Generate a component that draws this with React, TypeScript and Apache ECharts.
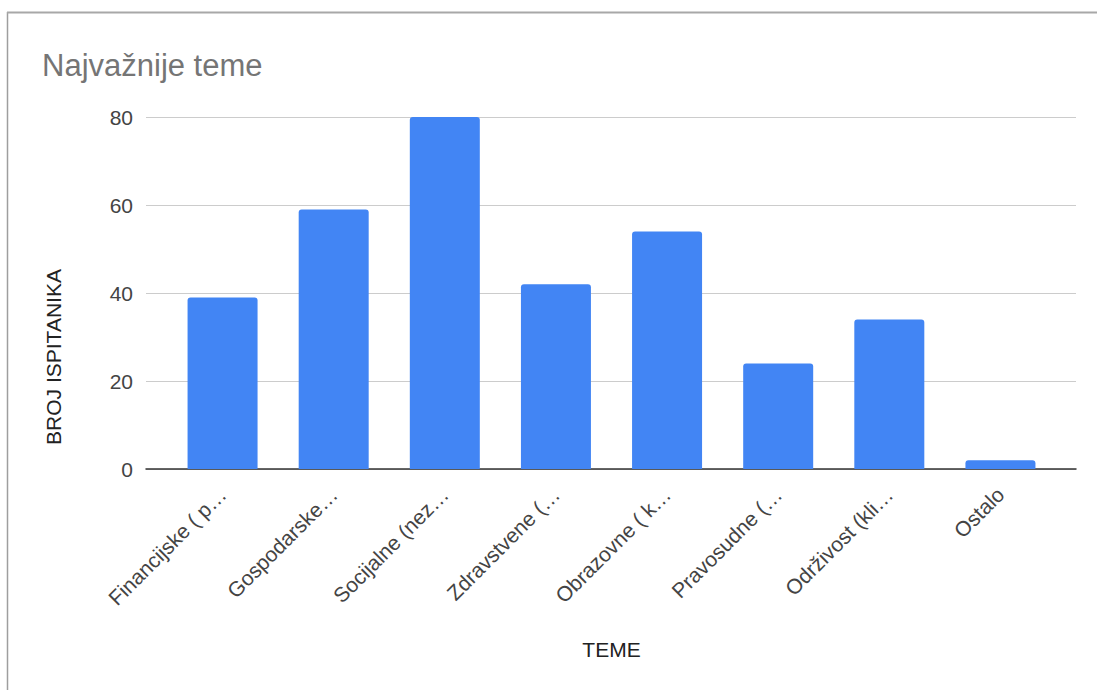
import React, { useEffect, useRef } from "react";
import * as echarts from "echarts";

const categories = [
  "Financijske ( p…",
  "Gospodarske…",
  "Socijalne (nez…",
  "Zdravstvene (…",
  "Obrazovne ( k…",
  "Pravosudne (…",
  "Održivost (kli…",
  "Ostalo",
];
const values = [39, 59, 80, 42, 54, 24, 34, 2];
const yTicks = { min: 0, max: 80, interval: 20 };
const titleText = "Najvažnije teme";
const xTitle = "TEME";
const yTitle = "BROJ ISPITANIKA";

const FONT = "'Liberation Sans', Arial, sans-serif";

export default function App() {
  const ref = useRef<HTMLDivElement>(null);
  useEffect(() => {
    if (!ref.current) return;
    const chart = echarts.init(ref.current, undefined, { renderer: "svg" });
    chart.setOption({
      animation: false,
      backgroundColor: "#ffffff",
      title: {
        text: titleText,
        left: 37,
        top: 45,
        textStyle: { fontFamily: FONT, fontSize: 31, fontWeight: "normal", color: "#757575" },
      },
      grid: [
        { left: 146, right: 21, top: 117, bottom: 221, containLabel: false },
        { left: 167, right: 41, top: 117, bottom: 221, containLabel: false },
      ],
      xAxis: [
        {
          type: "value",
          gridIndex: 0,
          min: 0,
          max: 1,
          axisLine: { show: true, onZero: false, lineStyle: { color: "#333333", width: 1.5 } },
          axisTick: { show: false },
          axisLabel: { show: false },
          splitLine: { show: false },
        },
        {
          type: "category",
          gridIndex: 1,
          data: categories,
          boundaryGap: true,
          axisLine: { show: false },
          axisTick: { show: false },
          axisLabel: {
            interval: 0,
            rotate: 45,
            margin: 22,
            fontFamily: FONT,
            fontSize: 21,
            color: "#444444",
          },
          name: xTitle,
          nameLocation: "middle",
          nameGap: 170,
          nameTextStyle: { fontFamily: FONT, fontSize: 21, color: "#222222" },
        },
      ],
      yAxis: [
        {
          type: "value",
          gridIndex: 0,
          min: yTicks.min,
          max: yTicks.max,
          interval: yTicks.interval,
          axisLine: { show: false },
          axisTick: { show: false },
          axisLabel: { margin: 13, fontFamily: FONT, fontSize: 21, color: "#444444" },
          splitLine: { show: true, lineStyle: { color: "#cccccc", width: 1 } },
        },
        {
          type: "value",
          gridIndex: 1,
          min: yTicks.min,
          max: yTicks.max,
          interval: yTicks.interval,
          show: false,
          splitLine: { show: false },
        },
      ],
      series: [
        {
          type: "bar",
          xAxisIndex: 1,
          yAxisIndex: 1,
          data: values,
          barWidth: 70,
          itemStyle: { color: "#4285f4", borderRadius: [3, 3, 0, 0] },
          z: 3,
        },
      ],
      graphic: [
        {
          type: "text",
          x: 53,
          y: 357,
          rotation: Math.PI / 2,
          style: {
            text: yTitle,
            fontFamily: FONT,
            fontSize: 21,
            fill: "#222222",
            align: "center",
            verticalAlign: "middle",
          },
        },
        {
          type: "line",
          shape: { x1: 7.5, y1: 12, x2: 7.5, y2: 690 },
          style: { stroke: "#9e9e9e", lineWidth: 1.5 },
        },
        {
          type: "line",
          shape: { x1: 7, y1: 12.5, x2: 1097, y2: 12.5 },
          style: { stroke: "#a8a8a8", lineWidth: 2 },
        },
      ],
    });
    return () => chart.dispose();
  }, []);
  return (
    <div
      ref={ref}
      style={{ position: "fixed", left: 0, top: 0, width: 1097, height: 690 }}
    />
  );
}
